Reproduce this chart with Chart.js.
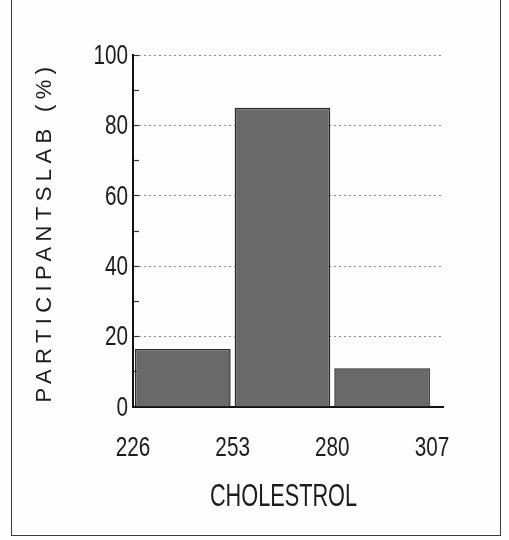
<!DOCTYPE html>
<html>
<head>
<meta charset="utf-8">
<script src="https://cdn.jsdelivr.net/npm/chart.js@4.4.1/dist/chart.umd.min.js"></script>
<style>
  html, body { margin: 0; padding: 0; background: #fdfdfd; }
  #wrap { position: relative; width: 509px; height: 540px; overflow: hidden; }
  #frame {
    position: absolute; left: 11px; top: -5px; width: 488px; height: 539px;
    border: 1.5px solid #3a3a3a; pointer-events: none;
  }
  canvas { position: absolute; left: 0; top: 0; }
</style>
</head>
<body>
<div id="wrap">
  <canvas id="chart" width="509" height="540"></canvas>
  <div id="frame"></div>
</div>
<script>
// histogram bins (cholesterol) and share of participants in each bin
const binEdges = [226, 253, 280, 307];
const percents = [16.5, 85, 11];
const yTicks = [0, 20, 40, 60, 80, 100];

const xTitle = "CHOLESTROL";
const yTitle = "PARTICIPANTSLAB (%)";

const bars = percents.map((p, i) => ({ x: (binEdges[i] + binEdges[i + 1]) / 2, y: p }));

const textColor = "#1c1c1c";

// the original uses a condensed face; squeeze Liberation Sans horizontally
function narrowText(ctx, text, x, y, size, squeeze, align) {
  ctx.save();
  ctx.font = size + "px 'Liberation Sans', Arial, sans-serif";
  ctx.fillStyle = textColor;
  ctx.textBaseline = "middle";
  ctx.textAlign = align;
  ctx.translate(x, y);
  ctx.scale(squeeze, 1);
  ctx.fillText(text, 0, 0);
  ctx.restore();
}

const labelsPlugin = {
  id: "labels",
  afterDraw(chart) {
    const { ctx, chartArea, scales } = chart;

    // y tick labels
    for (const v of yTicks) {
      narrowText(ctx, String(v), chartArea.left - 5, scales.y.getPixelForValue(v) + 1, 28, 0.74, "right");
    }
    // x tick labels
    for (const v of binEdges) {
      narrowText(ctx, String(v), scales.x.getPixelForValue(v), chartArea.bottom + 41, 28, 0.74, "center");
    }
    // x title
    const xMid = (scales.x.getPixelForValue(binEdges[0]) + scales.x.getPixelForValue(binEdges[binEdges.length - 1])) / 2;
    narrowText(ctx, xTitle, xMid + 1, chartArea.bottom + 90, 31, 0.7, "center");

    // y title, letter-spaced
    ctx.save();
    ctx.font = "22px 'Liberation Sans', Arial, sans-serif";
    ctx.fillStyle = textColor;
    ctx.textAlign = "center";
    ctx.textBaseline = "middle";
    ctx.letterSpacing = "5.4px";
    ctx.translate(45, 232);
    ctx.rotate(-Math.PI / 2);
    ctx.fillText(yTitle, 0, 0);
    ctx.restore();
  },
};

new Chart(document.getElementById("chart"), {
  type: "bar",
  data: {
    datasets: [
      {
        data: bars,
        backgroundColor: "#696969",
        borderColor: "#2a2a2a",
        borderWidth: 1.5,
        barPercentage: 1,
        categoryPercentage: 0.96,
      },
    ],
  },
  options: {
    responsive: false,
    animation: false,
    layout: { padding: { left: 0, right: 66, top: 55, bottom: 20 } },
    plugins: { legend: { display: false }, tooltip: { enabled: false } },
    scales: {
      x: {
        type: "linear",
        offset: false,
        min: 226,
        max: 310,
        afterBuildTicks(scale) {
          scale.ticks = binEdges.map((v) => ({ value: v }));
        },
        afterFit(scale) {
          scale.height = 113;
        },
        grid: { display: false, drawTicks: false },
        border: { display: true, color: "#111", width: 2 },
        ticks: { display: false },
      },
      y: {
        min: 0,
        max: 100,
        afterBuildTicks(scale) {
          scale.ticks = [];
          for (let v = 0; v <= 100; v += 10) scale.ticks.push({ value: v });
        },
        afterFit(scale) {
          scale.width = 133;
        },
        grid: {
          drawTicks: true,
          tickLength: -6,
          tickWidth: 1.2,
          tickColor: (c) => (c.tick && c.tick.value > 0 ? "#333" : "rgba(0,0,0,0)"),
          color: (c) => (c.tick && c.tick.value > 0 && c.tick.value % 20 === 0 ? "#8a8a8a" : "rgba(0,0,0,0)"),
          lineWidth: 1,
        },
        border: { display: true, color: "#111", width: 2, dash: [2, 3] },
        ticks: { display: false },
      },
    },
  },
  plugins: [labelsPlugin],
});
</script>
</body>
</html>
